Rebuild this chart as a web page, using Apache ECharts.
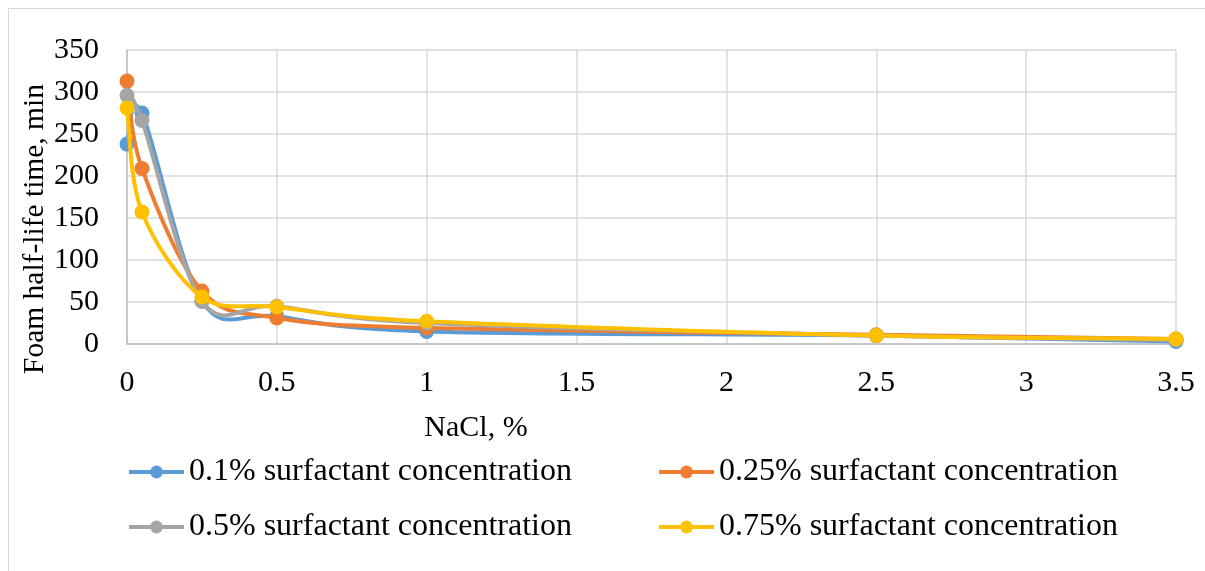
<!DOCTYPE html>
<html>
<head>
<meta charset="utf-8">
<script src="https://cdn.jsdelivr.net/npm/echarts@6/dist/echarts.min.js"></script>
<style>
  html, body { margin: 0; padding: 0; background: #fff; }
  #chart { width: 1205px; height: 571px; }
</style>
</head>
<body>
<div id="chart"></div>
<script>
// NaCl concentration, %
const nacl = [0, 0.05, 0.25, 0.5, 1, 2.5, 3.5];

// Foam half-life time, min, per surfactant concentration
const s010 = [238, 275, 51, 33, 15, 10, 3];
const s025 = [313, 209, 63, 31, 19, 11, 6];
const s050 = [296, 266, 51, 45, 25, 10, 5];
const s075 = [281, 157, 56, 44, 27, 10, 6];

const seriesNames = [
  '0.1% surfactant concentration',
  '0.25% surfactant concentration',
  '0.5% surfactant concentration',
  '0.75% surfactant concentration'
];
const seriesValues = [s010, s025, s050, s075];
const colors = ['#5B9BD5', '#ED7D31', '#A5A5A5', '#FFC000'];

const xTitle = 'NaCl, %';
const yTitle = 'Foam half-life time, min';

const FONT = '"Liberation Serif", "Times New Roman", serif';
const FS = 30;
const LINE_W = 4;

// Smoothed curve: one cubic Bezier per segment, Catmull-Rom tangents (1/6)
// computed in pixel space from the neighbouring points.
function curveSeries(vals, i) {
  return {
    id: 'curve' + i,
    type: 'custom',
    coordinateSystem: 'cartesian2d',
    data: nacl.map((x, k) => [x, vals[k], k]),
    encode: { x: 0, y: 1 },
    itemStyle: { color: colors[i] },
    silent: true,
    z: 2 + 2 * i,
    renderItem: function (params, api) {
      const k = api.value(2);
      const n = nacl.length;
      if (k >= n - 1) return null;
      const clampIdx = j => Math.max(0, Math.min(n - 1, j));
      const P = j => api.coord([nacl[clampIdx(j)], vals[clampIdx(j)]]);
      const p0 = P(k - 1), p1 = P(k), p2 = P(k + 1), p3 = P(k + 2);
      const t = 1 / 6;
      return {
        type: 'bezierCurve',
        shape: {
          x1: p1[0], y1: p1[1],
          cpx1: p1[0] + (p2[0] - p0[0]) * t, cpy1: p1[1] + (p2[1] - p0[1]) * t,
          cpx2: p2[0] - (p3[0] - p1[0]) * t, cpy2: p2[1] - (p3[1] - p1[1]) * t,
          x2: p2[0], y2: p2[1]
        },
        style: { stroke: colors[i], lineWidth: LINE_W, fill: null, lineCap: 'round', lineJoin: 'round' }
      };
    }
  };
}

// Markers at the measured points (the named series used by the legend)
function pointSeries(vals, i) {
  return {
    name: seriesNames[i],
    type: 'line',
    symbol: 'circle',
    symbolSize: 15,
    showSymbol: true,
    data: nacl.map((x, k) => [x, vals[k]]),
    lineStyle: { width: 0, opacity: 0, color: colors[i] },
    itemStyle: { color: colors[i] },
    z: 3 + 2 * i
  };
}

const series = [];
seriesValues.forEach((vals, i) => {
  series.push(curveSeries(vals, i));
  series.push(pointSeries(vals, i));
});

const legendText = { fontFamily: FONT, fontSize: 32, color: '#000', lineHeight: 32 };
const legendCommon = {
  orient: 'vertical', top: 456, itemGap: 23, padding: 0,
  itemWidth: 55, itemHeight: 16,
  lineStyle: { width: LINE_W, opacity: 1 },
  textStyle: legendText
};

const chart = echarts.init(document.getElementById('chart'), null, { renderer: 'canvas' });
chart.setOption({
  animation: false,
  backgroundColor: '#fff',
  graphic: [
    {
      type: 'rect',
      shape: { x: 8.5, y: 8.5, width: 1220, height: 620 },
      style: { fill: 'none', stroke: '#D9D9D9', lineWidth: 1 },
      silent: true
    },
    {
      type: 'text', x: 476, y: 428,
      style: { text: xTitle, font: FS + 'px ' + FONT, fill: '#000', textAlign: 'center', textVerticalAlign: 'middle' }
    },
    {
      type: 'text', x: 35, y: 229, rotation: Math.PI / 2,
      style: { text: yTitle, font: '29.5px ' + FONT, fill: '#000', textAlign: 'center', textVerticalAlign: 'middle' }
    }
  ],
  grid: { left: 127, right: 29, top: 50, bottom: 227 },
  xAxis: {
    type: 'value',
    min: 0, max: 3.5, interval: 0.5,
    axisLine: { show: true, lineStyle: { color: '#BFBFBF', width: 1.5 } },
    axisTick: { show: false },
    axisLabel: { fontFamily: FONT, fontSize: FS, color: '#000', margin: 24 },
    splitLine: { show: true, lineStyle: { color: '#D9D9D9', width: 1.5 } }
  },
  yAxis: {
    type: 'value',
    min: 0, max: 350, interval: 50,
    axisLine: { show: true, lineStyle: { color: '#BFBFBF', width: 1.5 } },
    axisTick: { show: false },
    axisLabel: { fontFamily: FONT, fontSize: FS, color: '#000', margin: 28 },
    splitLine: { show: true, lineStyle: { color: '#D9D9D9', width: 1.5 } }
  },
  legend: [
    Object.assign({ left: 127, data: [seriesNames[0], seriesNames[2]] }, legendCommon),
    Object.assign({ left: 657, data: [seriesNames[1], seriesNames[3]] }, legendCommon)
  ],
  series: series
});
</script>
</body>
</html>
